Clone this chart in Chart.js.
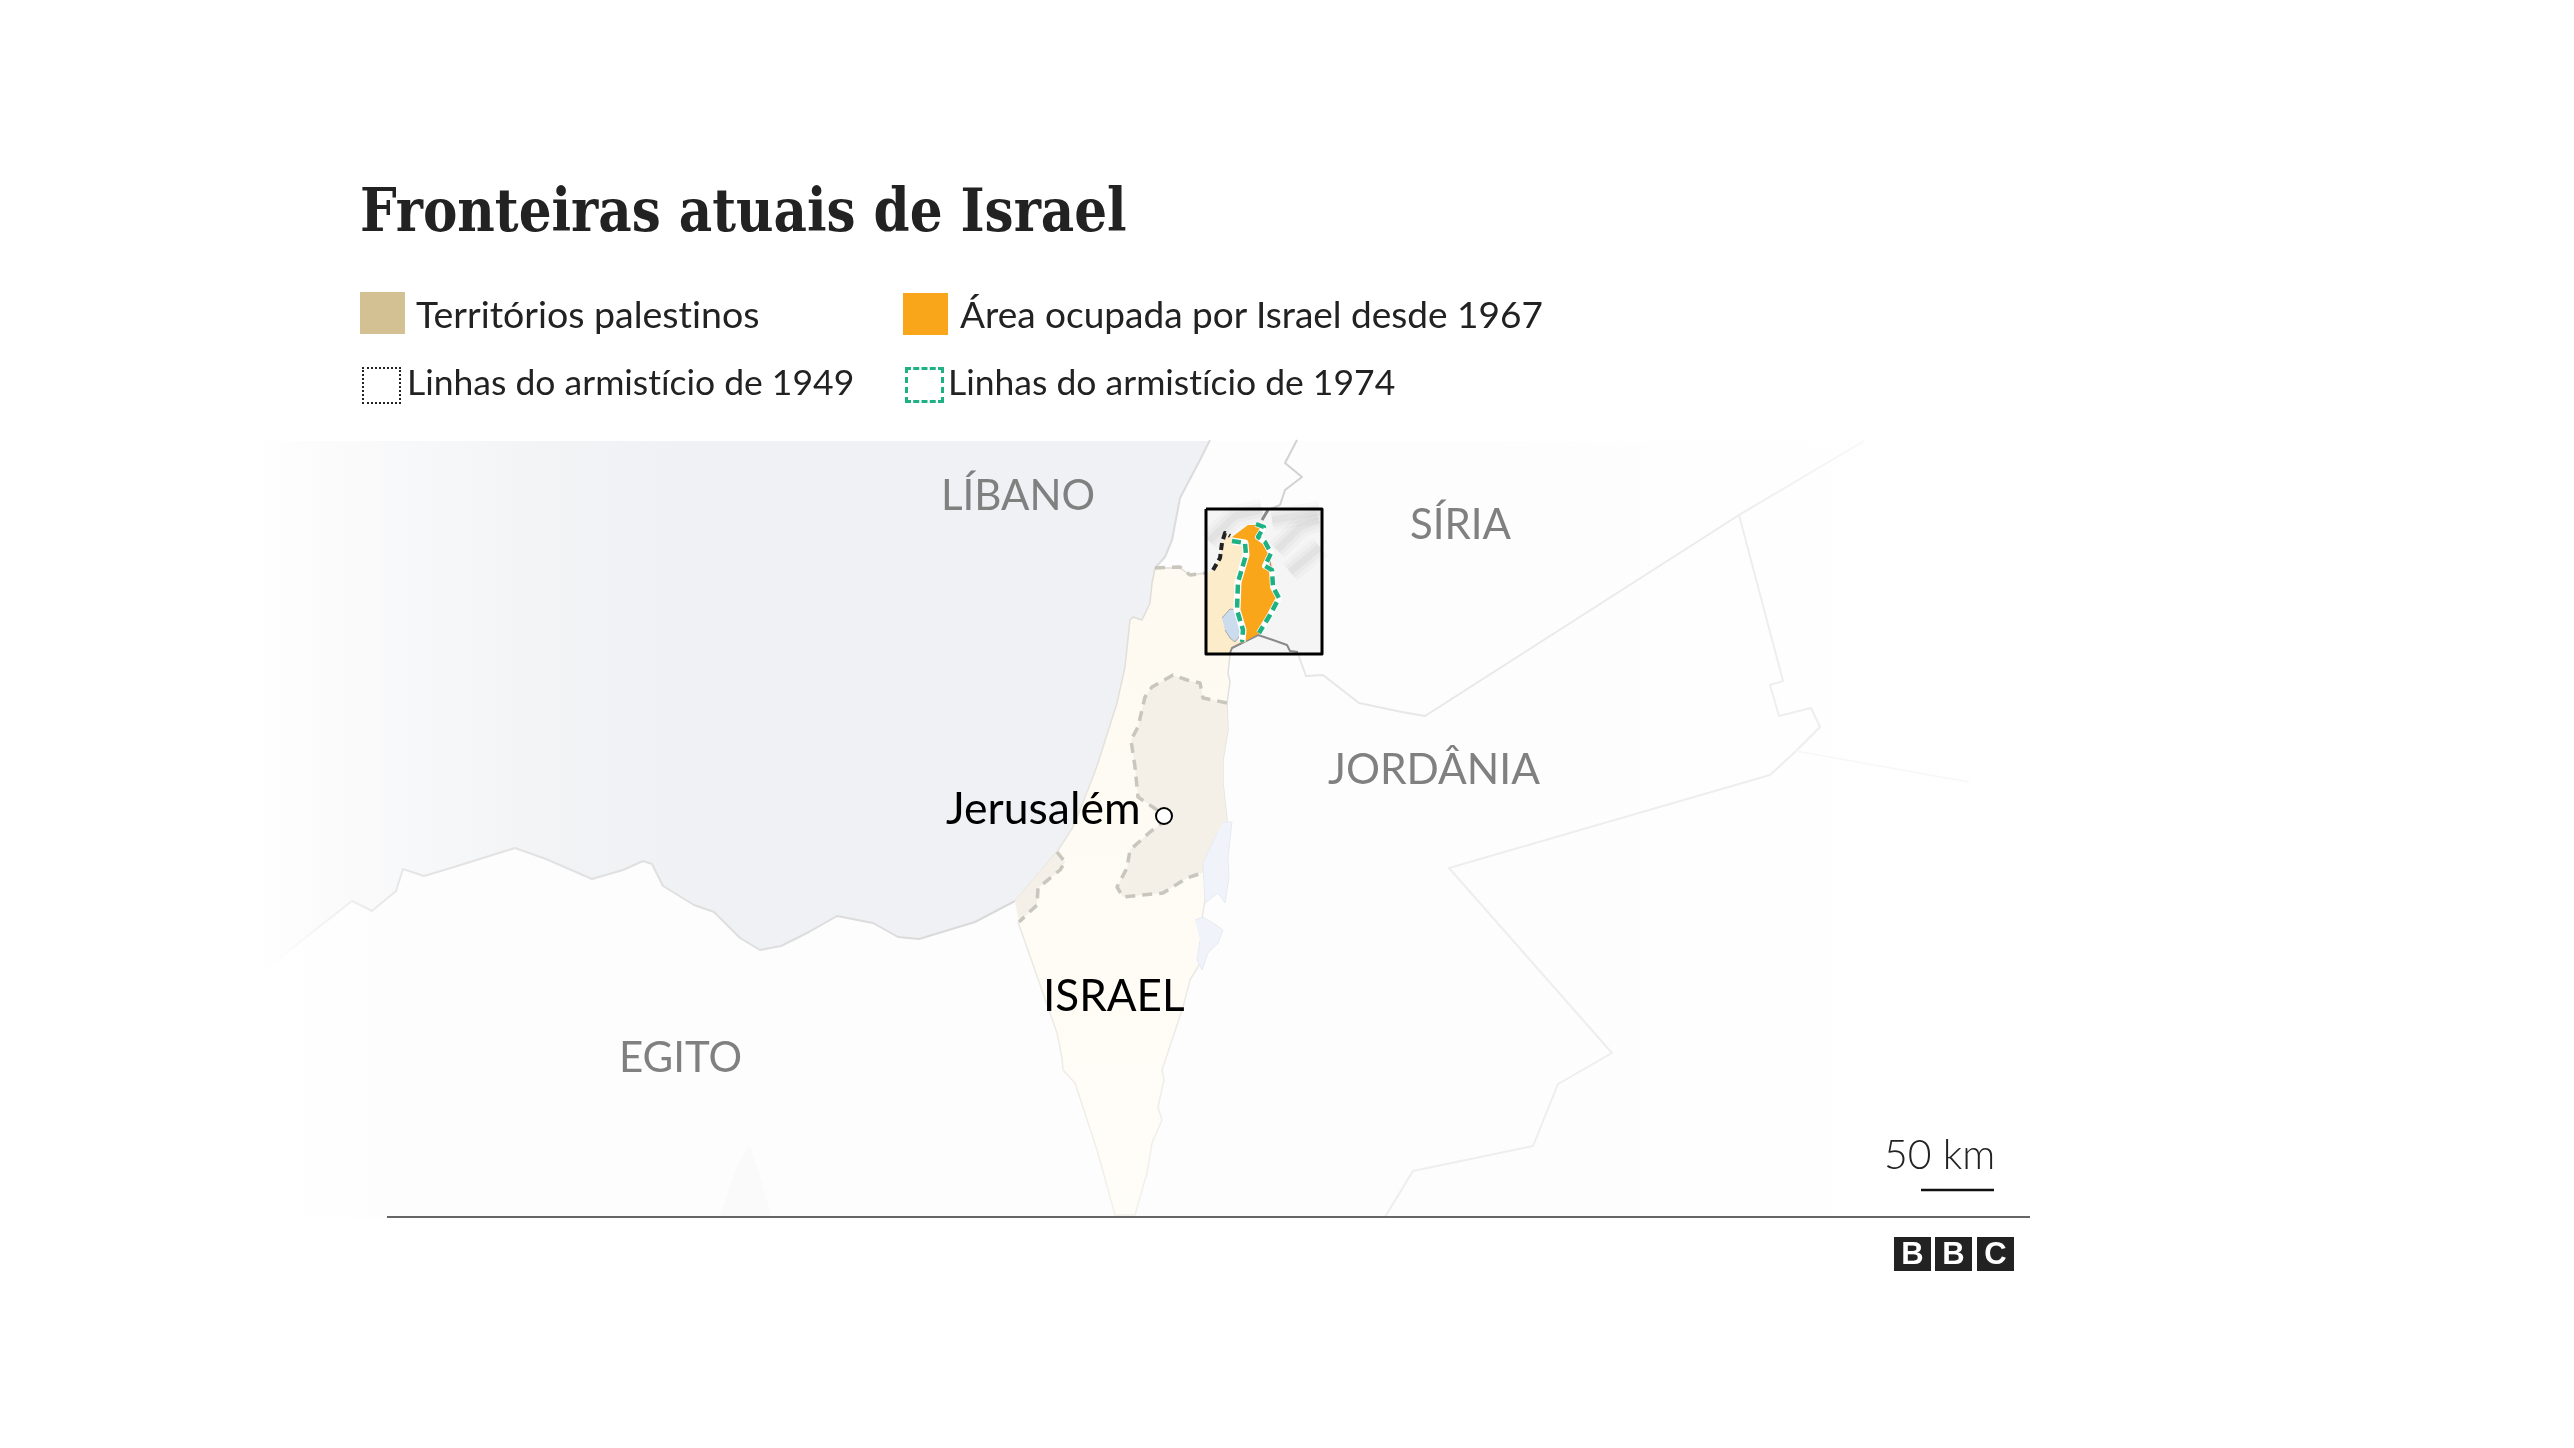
<!DOCTYPE html>
<html lang="pt">
<head>
<meta charset="utf-8">
<title>Fronteiras atuais de Israel</title>
<script src="https://cdn.jsdelivr.net/npm/chart.js@4/dist/chart.umd.min.js"></script>
<style>
  html, body { margin: 0; background: #fff; overflow: hidden; }
  #page { position: relative; width: 2574px; height: 1448px; font-family: Lato, sans-serif; color: #222; font-variant-ligatures: none; }
  #map { position: absolute; left: 0; top: 0; }
  .txt { position: absolute; white-space: nowrap; line-height: 1; }
  #title { left: 360px; top: 175px; font: bold 60px "DejaVu Serif", serif; transform: scaleX(0.86); transform-origin: left top; }
  .lg1 { font-size: 37px; }
  .lg2 { font-size: 35.5px; }
  .sw { position: absolute; box-sizing: border-box; }
  .bbc { position: absolute; top: 1237px; width: 37px; height: 34px; background: #222; color: #fff;
         font: bold 31px/34px "Liberation Sans", sans-serif; text-align: center; }
  #scale { left: 1884px; top: 1133px; font-size: 41px; font-weight: 300; }
</style>
</head>
<body>
<div id="page">
  <canvas id="map" width="2574" height="1448"></canvas>
  <div class="txt" id="title">Fronteiras atuais de Israel</div>

  <div class="sw" style="left:360px;top:292px;width:45px;height:42px;background:#d3c194"></div>
  <div class="txt lg1" style="left:416px;top:295px;font-size:37.5px">Territórios palestinos</div>
  <div class="sw" style="left:903px;top:293px;width:45px;height:42px;background:#faa61a"></div>
  <div class="txt lg1" style="left:960px;top:295px">Área ocupada por Israel desde 1967</div>
  <div class="sw" style="left:362px;top:367px;width:39px;height:37px;border:2px dotted #222"></div>
  <div class="txt lg2" style="left:407px;top:364px">Linhas do armistício de 1949</div>
  <div class="sw" style="left:905px;top:367px;width:39px;height:36px;border:3px dashed #1db184"></div>
  <div class="txt lg2" style="left:948px;top:364px">Linhas do armistício de 1974</div>

  <div class="txt" id="scale">50 km</div>
  <div class="bbc" style="left:1894px">B</div>
  <div class="bbc" style="left:1935px">B</div>
  <div class="bbc" style="left:1977px">C</div>
</div>

<script>
// Map geometry
const landArea = [[240,441],[2000,441],[2000,1217],[240,1217]];
const seaArea = [[250,441],[1210,441],[1200,460],[1180,498],[1172,540],[1165,557],[1155,568],[1152,583],[1150,603],[1142,620],[1133,617],[1130,620],[1125,667],[1117,703],[1098,763],[1093,777],[1073,827],[1057,852],[1015,901],[975,922],[919,939],[898,937],[873,923],[837,916],[809,932],[781,946],[760,950],[740,938],[714,912],[694,905],[663,886],[652,864],[643,861],[623,870],[592,879],[546,859],[515,848],[454,867],[424,876],[403,869],[396,891],[372,911],[352,901],[271,965],[250,980]];
const egyptCoast = [[271,965],[352,901],[372,911],[396,891],[403,869],[424,876],[454,867],[515,848],[546,859],[592,879],[623,870],[643,861],[652,864],[663,886],[694,905],[714,912],[740,938],[760,950],[781,946],[809,932],[837,916],[873,923],[898,937],[919,939],[975,922],[1015,901]];
const lebanonCoast = [[1155,568],[1165,557],[1172,540],[1180,498],[1200,460],[1210,440]];
const israelArea = [[1015,901],[1057,852],[1073,827],[1093,777],[1098,763],[1117,703],[1125,667],[1130,620],[1133,617],[1142,620],[1150,603],[1152,583],[1155,568],[1180,568],[1190,575],[1206,573],[1230,655],[1228,673],[1230,682],[1227,703],[1228,730],[1223,760],[1223,783],[1227,820],[1208,870],[1205,900],[1202,918],[1208,938],[1202,960],[1190,980],[1183,1007],[1162,1070],[1164,1080],[1158,1107],[1162,1120],[1152,1143],[1147,1173],[1135,1215],[1115,1215],[1097,1150],[1075,1083],[1063,1070],[1062,1058],[1057,1033],[1018,922]];
const westBankArea = [[1227,703],[1213,700],[1203,698],[1200,683],[1187,680],[1173,675],[1152,687],[1145,697],[1138,727],[1131,740],[1135,767],[1138,797],[1157,810],[1162,823],[1150,832],[1130,850],[1127,868],[1117,887],[1123,897],[1163,893],[1187,878],[1208,871],[1227,820],[1223,783],[1223,760],[1228,730]];
const westBankLine = [[1227,703],[1213,700],[1203,698],[1200,683],[1187,680],[1173,675],[1152,687],[1145,697],[1138,727],[1131,740],[1135,767],[1138,797],[1157,810],[1162,823],[1150,832],[1130,850],[1127,868],[1117,887],[1123,897],[1163,893],[1187,878],[1208,871]];
const gazaArea = [[1015,901],[1057,852],[1065,862],[1060,870],[1038,888],[1037,905],[1019,922]];
const gazaLine = [[1057,852],[1065,862],[1060,870],[1038,888],[1037,905],[1019,922]];
const lebanonLine = [[1155,568],[1180,567],[1190,575],[1206,573]];
const deadSeaNorth = [[1223,822],[1232,822],[1228,857],[1229,877],[1225,903],[1218,893],[1205,903],[1203,863],[1217,833]];
const deadSeaSouth = [[1195,920],[1203,917],[1213,923],[1223,930],[1218,943],[1208,953],[1202,970],[1197,960],[1200,940]];
const sinaiPatch = [[720,1216],[735,1171],[750,1145],[760,1176],[771,1216]];

const lebanonSyria = [[1297,440],[1285,463],[1302,477],[1285,490],[1280,505],[1268,510]];
const syriaJordan = [[1298,654],[1306,676],[1323,675],[1359,703],[1402,712],[1425,716],[1739,515],[1864,441]];
const jordanEast = [[1739,515],[1783,681],[1770,685],[1779,716],[1811,708],[1820,727],[1796,751],[1770,775],[1449,868],[1612,1053],[1558,1084],[1533,1146],[1413,1171],[1385,1217]];
const iraqSaudi = [[1796,751],[1969,782]];

// Inset
const insetFrame = [[1206,509],[1322,509],[1322,654],[1206,654],[1206,509]];
const insetIsrael = [[1206,574],[1213,570],[1220,558],[1222,543],[1225,533],[1230,536],[1243,542],[1246,555],[1238,580],[1237,610],[1242,630],[1242,643],[1232,648],[1230,653],[1206,653]];
const golanArea = [[1232,537],[1248,525],[1258,525],[1263,528],[1258,537],[1265,543],[1270,555],[1267,565],[1272,572],[1273,587],[1280,597],[1275,603],[1270,617],[1260,633],[1242,643],[1243,630],[1238,613],[1237,597],[1240,577],[1245,557],[1243,543]];
const line1974West = [[1232,541],[1245,543],[1246,555],[1238,582],[1237,610],[1243,630],[1242,642]];
const line1974East = [[1256,524],[1264,527],[1258,537],[1265,542],[1271,553],[1265,566],[1272,570],[1273,587],[1279,598],[1270,615],[1259,633]];
const line1949 = [[1213,570],[1220,558],[1222,543],[1225,533],[1230,536]];
const galileeLake = [[1222,618],[1230,609],[1237,610],[1237,620],[1242,633],[1235,642],[1230,638],[1225,630]];
const insetBorderSouth = [[1230,653],[1232,648],[1242,643],[1258,635],[1273,640],[1287,645],[1290,651],[1298,652]];
const insetBorderNorth = [[1262,520],[1268,510]];
const golanEdge = [[1268,552],[1272,572],[1274,587],[1280,597]];
const ridges = [
  [[1209,541],[1235,516],[1262,510]],
  [[1277,550],[1300,527],[1319,520]],
  [[1290,572],[1320,547]],
  [[1272,520],[1320,512]]
];

const jerusalemPoint = [[1164,816]];
const scaleBar = [[1921,1190],[1994,1190]];
const baseLine = [[387,1217],[2030,1217]];

const placeNames = ['LÍBANO', 'SÍRIA', 'JORDÂNIA', 'EGITO', 'Jerusalém', 'ISRAEL'];
const placeX = [941, 1410, 1328, 619, 946, 1043];
const placeY = [510, 539, 784, 1072, 824, 1011];
const placeColors = ['#808080', '#808080', '#808080', '#808080', '#000', '#000'];
const placeFonts = [42, 42, 42.5, 42, 44.5, 44];

const ctx = document.getElementById('map').getContext('2d');

function hGradient(stops) {
  const g = ctx.createLinearGradient(stops[0][0], 0, stops[stops.length - 1][0], 0);
  const span = stops[stops.length - 1][0] - stops[0][0];
  stops.forEach(s => g.addColorStop((s[0] - stops[0][0]) / span, s[1]));
  return g;
}
function vGradient(top, bottom, c1, c2) {
  const g = ctx.createLinearGradient(0, top, 0, bottom);
  g.addColorStop(0, c1);
  g.addColorStop(1, c2);
  return g;
}

const seaFill = hGradient([[250,'#ffffff'],[330,'#fbfbfc'],[450,'#f6f7f8'],[560,'#f2f3f5'],[700,'#f0f1f4'],[1210,'#f0f1f4']]);
const landFill = hGradient([[240,'#ffffff'],[420,'#fdfdfd'],[1500,'#fdfdfd'],[2000,'#ffffff']]);
const coastStroke = hGradient([[271,'rgba(225,225,225,0)'],[420,'#e4e4e4'],[1015,'#d9d9d9']]);
const fadeStroke = hGradient([[1296,'#e6e6e6'],[1739,'#ececec'],[1864,'#f8f8f8']]);
const israelFill = vGradient(568, 1217, '#fefaf1', '#fffdf8');
const israelEdge = vGradient(568, 1217, '#dedcd5', '#f3f1ec');

const toPts = arr => arr.map(p => ({ x: p[0], y: p[1] }));

function area(arr, color, edge, edgeWidth) {
  return { data: toPts(arr), showLine: true, fill: 'shape', backgroundColor: color,
           borderColor: edge || 'rgba(0,0,0,0)', borderWidth: edgeWidth || 0 };
}
function stroke(arr, color, width, dash) {
  return { data: toPts(arr), showLine: true, fill: false, borderColor: color,
           borderWidth: width, borderDash: dash || [] };
}

// paint order, first entry lies at the bottom
const layers = [
  area(landArea, landFill),
  area(seaArea, seaFill),
  area(sinaiPatch, '#fafafa'),
  stroke(egyptCoast, coastStroke, 2),
  stroke(lebanonCoast, '#dcdcdc', 2),
  stroke(lebanonSyria, '#d2d2d2', 2),
  stroke(syriaJordan, fadeStroke, 2),
  stroke(jordanEast, '#eeeeee', 2),
  stroke(iraqSaudi, '#f7f7f7', 1.5),
  area(israelArea, israelFill, israelEdge, 1.5),
  area(westBankArea, '#f4f0e7'),
  area(gazaArea, '#f4f0e7'),
  stroke(westBankLine, '#c9c6be', 3.5, [10, 7]),
  stroke(gazaLine, '#c9c6be', 3.5, [10, 7]),
  stroke(lebanonLine, '#c9c6be', 3.5, [10, 7]),
  area(deadSeaNorth, '#f0f4fa', '#e6ebf2', 1),
  area(deadSeaSouth, '#f0f4fa', '#e6ebf2', 1),
  area(insetFrame, '#f5f5f6')
];
ridges.forEach(r => {
  layers.push(stroke(r, 'rgba(150,150,150,0.05)', 22));
  layers.push(stroke(r, 'rgba(150,150,150,0.07)', 14));
  layers.push(stroke(r, 'rgba(150,150,150,0.09)', 7));
});
layers.push(
  area(insetIsrael, '#fdecc9'),
  area(galileeLake, '#ccdcef', '#a8a8a8', 1),
  stroke(insetBorderSouth, '#8a8a8a', 2),
  stroke(insetBorderNorth, '#888', 3),
  area(golanArea, '#faa61a'),
  stroke(golanEdge, '#c98a5a', 1.5),
  stroke(line1974West, '#fff', 7),
  stroke(line1974East, '#fff', 6),
  stroke(line1974West, '#1db184', 4.5, [9, 5]),
  stroke(line1974East, '#1db184', 4.5, [9, 5]),
  stroke(line1949, '#222', 4, [7, 4]),
  stroke(insetFrame, '#000', 3),
  stroke(scaleBar, '#111', 2.5),
  stroke(baseLine, '#333', 1.5),
  { data: toPts(jerusalemPoint), showLine: false, pointRadius: 8, pointBackgroundColor: '#fff',
    pointBorderColor: '#000', pointBorderWidth: 2 }
);
layers.forEach((d, i) => { d.order = layers.length - i; });

const placeLabels = {
  id: 'placeLabels',
  afterDatasetsDraw(chart) {
    const c = chart.ctx;
    c.save();
    c.textBaseline = 'alphabetic';
    placeNames.forEach((name, i) => {
      c.font = placeFonts[i] + 'px Lato, sans-serif';
      c.fillStyle = placeColors[i];
      c.fillText(name, chart.scales.x.getPixelForValue(placeX[i]), chart.scales.y.getPixelForValue(placeY[i]));
    });
    c.restore();
  }
};

new Chart(ctx, {
  type: 'scatter',
  data: { datasets: layers },
  plugins: [placeLabels],
  options: {
    responsive: false,
    animation: false,
    layout: { padding: 0, autoPadding: false },
    elements: { point: { radius: 0 }, line: { tension: 0, borderJoinStyle: 'round' } },
    plugins: { legend: { display: false }, tooltip: { enabled: false } },
    scales: {
      x: { type: 'linear', min: 0, max: 2574, display: false },
      y: { type: 'linear', min: 0, max: 1448, reverse: true, display: false }
    }
  }
});
</script>
</body>
</html>
